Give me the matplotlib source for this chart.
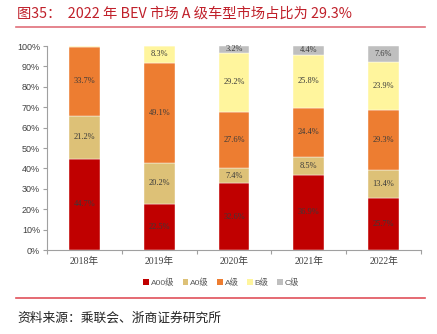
import matplotlib
matplotlib.use("Agg")
import matplotlib.pyplot as plt
from matplotlib.lines import Line2D
from matplotlib.patches import Patch
import numpy as np

years = ["2018年", "2019年", "2020年", "2021年", "2022年"]
series_names = ["A00级", "A0级", "A级", "B级", "C级"]
a00 = [44.7, 22.5, 32.6, 36.9, 25.7]
a0 = [21.2, 20.2, 7.4, 8.5, 13.4]
a = [33.7, 49.1, 27.6, 24.4, 29.3]
b = [0.4, 8.3, 29.2, 25.8, 23.9]
c = [0.0, 0.0, 3.2, 4.4, 7.6]
colors = ["#C00000", "#DDC177", "#ED7D31", "#FFF59D", "#BFBFBF"]

fig = plt.figure(figsize=(4.37, 3.34), dpi=100)
W, H = 437, 334

def fx(px):
    return px / W

def fy(py):
    return 1 - py / H

ax = fig.add_axes([fx(47), fy(250), fx(421) - fx(47), fy(46) - fy(250)])

x = np.arange(len(years))
bottom = np.zeros(len(years))
for vals, col, name in zip([a00, a0, a, b, c], colors, series_names):
    vals = np.array(vals)
    ax.bar(x, vals, width=0.41, bottom=bottom, color=col, label=name,
           edgecolor="white", linewidth=0.3)
    for xi, v, b0 in zip(x, vals, bottom):
        if v >= 3:
            ax.text(xi, b0 + v / 2, f"{v:.1f}%", ha="center", va="center",
                    fontsize=6, color="#3A3A3A",
                    family=["Liberation Serif", "DejaVu Serif"])
    bottom = bottom + vals

ax.set_xlim(-0.5, len(years) - 0.5)
ax.set_ylim(0, 100)
ax.set_yticks(np.arange(0, 101, 10))
ax.set_yticklabels([f"{v}%" for v in range(0, 101, 10)],
                   fontsize=6.5, color="#404040", family="Liberation Sans")
ax.set_xticks(np.arange(-0.5, len(years), 1.0))
ax.set_xticklabels([])
ax.set_xticks(x, minor=True)
ax.set_xticklabels(years, minor=True, fontsize=7, color="#404040",
                   family=["Liberation Serif", "Noto Sans CJK SC"])
ax.tick_params(axis="x", which="minor", length=0, pad=5)
ax.tick_params(axis="x", which="major", length=3, color="#A0A0A0", direction="out")
ax.tick_params(axis="y", length=3, color="#A0A0A0", pad=2)
for s in ["top", "right"]:
    ax.spines[s].set_visible(False)
for s in ["left", "bottom"]:
    ax.spines[s].set_color("#A0A0A0")
    ax.spines[s].set_linewidth(0.8)

handles = [Patch(facecolor=col, edgecolor="none", label=n) for col, n in zip(colors, series_names)]
fig.legend(handles=handles, loc="center", bbox_to_anchor=(fx(221), fy(283)), ncol=5,
           frameon=False, handlelength=0.7, handleheight=0.7, handletextpad=0.2,
           columnspacing=1.0, prop={"family": ["Liberation Sans", "Noto Sans CJK SC"], "size": 6},
           labelcolor="#595959")

fig.text(fx(17), fy(14), "图35：  2022 年 BEV 市场 A 级车型市场占比为 29.3%",
         ha="left", va="center", fontsize=10.3, color="#C0202A",
         family=["Noto Sans CJK SC", "DejaVu Sans"])
fig.add_artist(Line2D([fx(16), fx(425)], [fy(27), fy(27)], color="#E0707A", linewidth=1.2))
fig.add_artist(Line2D([fx(16), fx(425)], [fy(298), fy(298)], color="#E0505A", linewidth=1.2))
fig.text(fx(17), fy(318), "资料来源：乘联会、浙商证券研究所",
         ha="left", va="center", fontsize=9.2, color="#222222",
         family=["Noto Sans CJK SC", "DejaVu Sans"])

fig.savefig("out.png", dpi=100)
